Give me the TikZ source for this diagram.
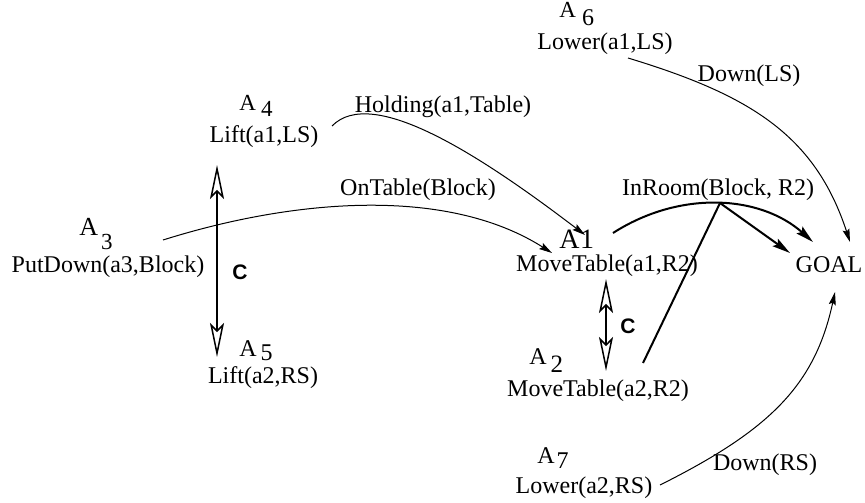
\documentclass[tikz,border=0pt]{standalone}
\usepackage{fontspec}
\setmainfont{Liberation Serif}
\newfontfamily\hvfont{Liberation Sans}
\usetikzlibrary{arrows.meta,calc}
\newcommand{\fs}[1]{\fontsize{#1}{#1}\selectfont}
\begin{document}
\begin{tikzpicture}[x=0.5pt,y=-0.5pt,
  txt/.style={inner sep=0pt,anchor=base,font=\fs{12}},
  albl/.style={inner sep=0pt,anchor=base west},
  cl/.style={inner sep=0pt,anchor=base,font=\hvfont\bfseries\fs{10.5}},
  thinarr/.style={line width=0.5pt,-{Stealth[length=6.5pt,width=3.5pt,inset=1pt]}},
  boldline/.style={line width=1pt},
  boldarr/.style={line width=1pt,-{Stealth[length=9pt,width=4.5pt,inset=1.5pt]}},
  conflict/.style={line width=0.75pt,{Stealth[open,length=17pt,width=7pt,inset=3.5pt,fill=white]}-{Stealth[open,length=17pt,width=7pt,inset=3.5pt,fill=white]}}
]
\useasboundingbox (0,0) rectangle (865,502);

% action labels
\node[albl] (l6) at (559,18) {\fs{11.5}A\kern3pt\raisebox{-4pt}{\fs{12}6}};
\node[albl] (l4) at (239,111) {\fs{11.5}A\kern2.5pt\raisebox{-3pt}{\fs{11.5}4}};
\node[albl] (l3) at (79,235) {\fs{13}A\kern1.5pt\raisebox{-7pt}{\fs{11.5}3}};
\node[albl] (l5) at (239,356) {\fs{12}A\kern2pt\raisebox{-2pt}{\fs{12}5}};
\node[albl] (l1) at (559,248) {\fs{14}A\kern0.3pt{}1};
\node[albl] (l2) at (529,364) {\fs{12}A\kern2pt\raisebox{-4pt}{\fs{12.5}2}};
\node[albl] (l7) at (537,463) {\fs{12}A\kern1pt\raisebox{-2.5pt}{\fs{12}7}};

% action texts and conditions
\node[txt] (n6) at (605,50) {Lower(a1,LS)};
\node[txt] (dls) at (749,82) {Down(LS)};
\node[txt] (n4) at (264,143) {Lift(a1,LS)};
\node[txt] (hold) at (443,113) {Holding(a1,Table)};
\node[txt] (ontab) at (418,195) {OnTable(Block)};
\node[txt] (n3) at (108,272) {PutDown(a3,Block)};
\node[cl] (c1) at (240,279) {C};
\node[txt] (n5) at (263,383) {Lift(a2,RS)};
\node[txt] (n1) at (607,271.5) {MoveTable(a1,R2)};
\node[txt] (inroom) at (718,195.5) {InRoom(Block, R2)};
\node[txt] (goal) at (829,272) {GOAL};
\node[txt] (n2) at (598,396) {MoveTable(a2,R2)};
\node[cl] (c2) at (628,333) {C};
\node[txt] (n7) at (584,493) {Lower(a2,RS)};
\node[txt] (drs) at (765,470) {Down(RS)};

\coordinate (apex) at ($(inroom.base)+(2,7.5)$);

% causal links
\draw[thinarr] ($(n6.base)+(23,8)$) .. controls (750,95) and (815,135) .. ($(goal.base)+(21,-30)$);
\draw[thinarr] ($(n4.base)+(68,-17)$) .. controls (372,85) and (480,155) .. ($(n1.base)+(-22,-36.5)$);
\draw[thinarr] ($(n3.base)+(55,-32)$) .. controls (290,200) and (445,185) .. ($(n1.base)+(-55,-18.5)$);
\draw[boldarr] ($(n1.base)+(6,-38.5)$) .. controls (680,190) and (760,195) .. ($(goal.base)+(-16,-30)$);
\draw[boldline] ($(n2.base)+(45,-33)$) -- (apex);
\draw[boldarr] (apex) -- ($(goal.base)+(-39,-19)$);
\draw[thinarr] ($(n7.base)+(76,-8)$) .. controls (770,430) and (815,385) .. ($(goal.base)+(6,20)$);

% conflicts
\draw[conflict] ($(n4.base)+(-47,22)$) -- ($(n5.base)+(-46,-26)$);
\draw[conflict] ($(n1.base)+(-1,7.5)$) -- ($(n2.base)+(8,-25)$);
\end{tikzpicture}
\end{document}
